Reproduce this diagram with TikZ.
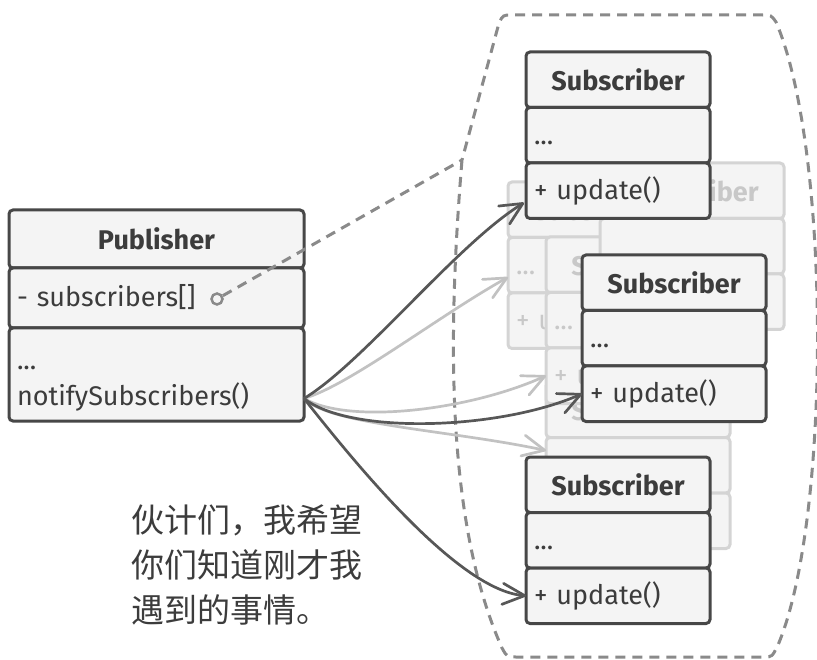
\documentclass[tikz,border=0pt]{standalone}
\usepackage{fontspec}
\setmainfont{Fira Sans}
\newfontfamily\cjkfont{Noto Sans CJK SC}
\usepackage{tikz}
\usetikzlibrary{arrows.meta,calc,positioning}
\definecolor{boxfill}{HTML}{F4F4F4}
\definecolor{boxline}{HTML}{474747}
\definecolor{boxtext}{HTML}{3C3C3C}
\definecolor{ghostline}{HTML}{D4D4D4}
\definecolor{ghosttext}{HTML}{C8C8C8}
\definecolor{ghostarrow}{HTML}{C2C2C2}
\definecolor{darkarrow}{HTML}{575757}
\definecolor{linkgray}{HTML}{8A8A8A}

\begin{document}
\begin{tikzpicture}[x=1pt,y=-1pt,
    cell/.style={draw=boxline, fill=boxfill, line width=3pt, rounded corners=4pt,
      minimum width=184pt, minimum height=55.5pt, outer sep=0pt, inner sep=8pt,
      text=boxtext, font=\fontsize{27}{36}\selectfont},
    head/.style={cell, font=\fontsize{27}{32}\selectfont\bfseries},
    body/.style={cell, text width=168pt, align=left},
    row/.style={body, text height=27pt, text depth=9pt},
    ghost/.style={draw=ghostline, text=ghosttext},
    call/.style={line width=2.7pt, line cap=round, draw=darkarrow,
      -{Straight Barb[length=22pt,width=21pt,round]}},
    ghostcall/.style={call, draw=ghostarrow},
    link/.style={draw=linkgray, line width=3pt, dash pattern=on 10pt off 7pt}]
  \useasboundingbox (0,0) rectangle (817,660);
  % group of subscribers
  \coordinate (join) at (462,160);
  \draw[link] (join) .. controls (448,330) and (445,520) .. (502,648)
    .. controls (507,657) .. (516,657) -- (764,657)
    .. controls (772,657) .. (778,645)
    .. controls (831,520) and (831,150) .. (776,22)
    .. controls (771,15) .. (762,15) -- (512,15)
    .. controls (503,15) .. (499,23) -- cycle;
  % faded subscribers behind
  \foreach \n/\x/\y in {g2/508/182, g4/546/382, g3/546/237} {
    \node[head, ghost, anchor=north west] (\n h) at (\x,\y) {Subscriber};
    \node[row, ghost, below=0pt of \n h] (\n f) {...};
    \node[row, ghost, below=0pt of \n f] (\n m) {+ update()};
  }
  \node[head, ghost, anchor=north west] (g1h) at (600,163) {Subscriber};
  \node[row, ghost, below=0pt of g1h] (g1f) {};
  \node[row, ghost, below=0pt of g1f] (g1m) {};
  % subscribers
  \foreach \n/\x/\y in {s1/526/52, s2/582/255, s3/526/457} {
    \node[head, anchor=north west] (\n h) at (\x,\y) {Subscriber};
    \node[row, below=0pt of \n h] (\n f) {...};
    \node[row, below=0pt of \n f] (\n m) {+ update()};
  }
  % publisher
  \node[head, minimum width=295pt, minimum height=58pt, anchor=north west] (ph) at (9,210) {Publisher};
  \node[row, text width=279pt, minimum height=60pt, below=0pt of ph] (pf) {- subscribers[]};
  \node[body, text width=279pt, minimum height=93pt, below=0pt of pf] (pm) {\rule{0pt}{31pt}...\\notifySubscribers()};
  \node[circle, draw=linkgray, line width=2.5pt, minimum size=11pt, inner sep=0pt] (hook) at (217,299) {};
  \draw[link] (hook) -- (join);
  % notifications
  \coordinate (pubout) at ($(pm.east)+(0,24)$);
  \draw[ghostcall] (pubout) .. controls (350,385) and (440,315) .. ($(g2f.west)+(0,12)$);
  \draw[ghostcall] (pubout) .. controls (350,425) and (470,410) .. (g3m.west);
  \draw[ghostcall] (pubout) .. controls (330,425) and (450,430) .. ($(g4f.north west)+(0,13)$);
  \draw[call] (pubout) .. controls (363,363) and (457,244) .. ($(s1m.west)+(-2,12)$);
  \draw[call] (pubout) .. controls (350,435) and (500,430) .. (s2m.west);
  \draw[call] (pubout) .. controls (345,450) and (455,590) .. (s3m.west);
  % speech
  \node[anchor=west, align=left, text=boxtext, font=\cjkfont\fontsize{33}{45}\selectfont] (note) at (128,565)
    {伙计们，我希望\\你们知道刚才我\\遇到的事情。};
\end{tikzpicture}
\end{document}
